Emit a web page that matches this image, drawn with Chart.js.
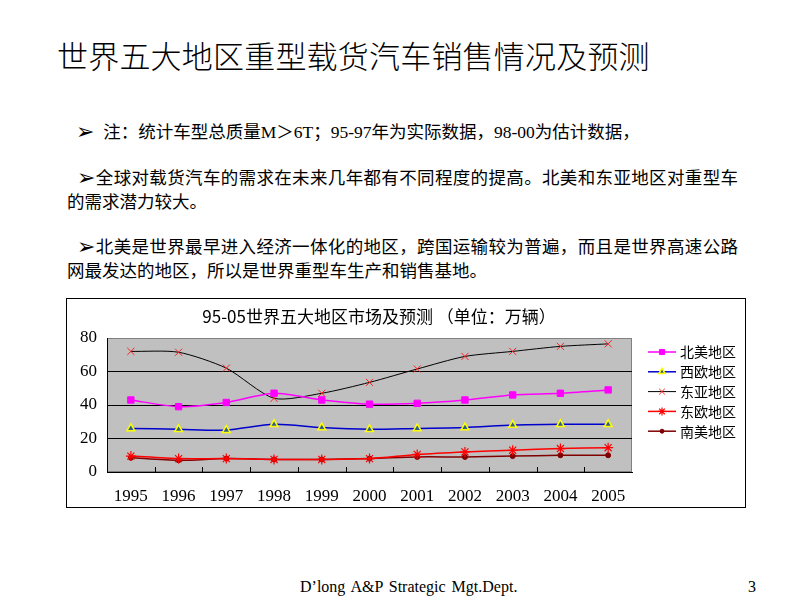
<!DOCTYPE html>
<html>
<head>
<meta charset="utf-8">
<script src="https://cdn.jsdelivr.net/npm/chart.js@4/dist/chart.umd.min.js"></script>
<style>
  html, body { margin:0; padding:0; background:#fff; }
  body { width:800px; height:600px; position:relative; overflow:hidden; font-family:"Liberation Serif","Noto Sans CJK SC",serif; color:#000; }
  .abs { position:absolute; white-space:nowrap; }
  #title { left:57px; top:36px; font-size:31px; font-family:"Noto Sans CJK SC",sans-serif; font-weight:300; line-height:38px; letter-spacing:0.2px; }
  .ln { position:absolute; font-size:17.5px; line-height:24px; white-space:nowrap; font-family:"Liberation Serif","Noto Sans CJK SC",serif; }
  .just { text-align:justify; text-align-last:justify; }
  .arr { font-family:"DejaVu Sans",sans-serif; font-size:22px; line-height:20px; vertical-align:-1px; }
  #box { position:absolute; left:66px; top:298px; width:680px; height:210px; box-sizing:border-box; border:1px solid #000; }
  #c { position:absolute; left:0; top:0; }
  #ctitle { position:absolute; left:179px; top:305px; width:400px; text-align:center; font-size:17px; font-family:"Noto Sans CJK SC",sans-serif; line-height:22px; white-space:nowrap; }
  #footer { left:300px; top:578px; font-size:16px; word-spacing:2px; font-family:"Liberation Serif",serif; }
  #pno { left:748px; top:578px; font-size:16px; font-family:"Liberation Serif",serif; }
</style>
</head>
<body>
<div id="title" class="abs">世界五大地区重型载货汽车销售情况及预测</div>
<div class="ln" style="left:76px;top:120px;"><span class="arr">➢</span>&nbsp;&nbsp;注：统计车型总质量M＞6T；95-97年为实际数据，98-00为估计数据，</div>
<div class="ln just" style="left:77px;top:166px;width:661px;"><span class="arr">➢</span>全球对载货汽车的需求在未来几年都有不同程度的提高。北美和东亚地区对重型车</div>
<div class="ln" style="left:67px;top:190px;">的需求潜力较大。</div>
<div class="ln just" style="left:77px;top:235px;width:661px;"><span class="arr">➢</span>北美是世界最早进入经济一体化的地区，跨国运输较为普遍，而且是世界高速公路</div>
<div class="ln" style="left:67px;top:259px;">网最发达的地区，所以是世界重型车生产和销售基地。</div>

<div id="box"><canvas id="c" width="678" height="208"></canvas></div>
<div id="ctitle">95-05世界五大地区市场及预测 （单位：万辆）</div>

<div id="footer" class="abs">D’long A&amp;P Strategic Mgt.Dept.</div>
<div id="pno" class="abs">3</div>

<script>
const years = ['1995','1996','1997','1998','1999','2000','2001','2002','2003','2004','2005'];
const seriesNames = ['北美地区','西欧地区','东亚地区','东欧地区','南美地区'];
const northAmerica = [43, 39, 41.5, 47, 43, 40.5, 41, 43, 46, 47, 49];
const westEurope   = [26, 25.5, 25, 28.5, 26.5, 25.5, 26, 26.5, 28, 28.5, 28.5];
const eastAsia     = [72, 71.5, 62, 44, 47, 53.5, 61.5, 69, 72, 75, 76.5];
const eastEurope   = [9.5, 8, 8, 7.5, 7.5, 8, 10.5, 12, 13, 14, 14.5];
const southAmerica = [8.5, 7, 8, 7.5, 7.5, 8, 9, 9, 9.5, 10, 10];
const yTicks = [0, 20, 40, 60, 80];

const datasets = [
  { label: seriesNames[0], data: northAmerica, borderColor:'#FF00FF', backgroundColor:'#FF00FF', borderWidth:1.5,
    pointStyle:'rect', pointRadius:4.5, pointBorderColor:'#FF00FF', pointBackgroundColor:'#FF00FF', pointBorderWidth:1 },
  { label: seriesNames[1], data: westEurope, borderColor:'#0000CC', backgroundColor:'#2F5F8F', borderWidth:1.5,
    pointStyle:'triangle', pointRadius:4.5, pointBorderColor:'#FFFF00', pointBackgroundColor:'#2F5F8F', pointBorderWidth:1.5 },
  { label: seriesNames[2], data: eastAsia, borderColor:'#000000', backgroundColor:'#FF0000', borderWidth:1,
    pointStyle:'crossRot', pointRadius:5, pointBorderColor:'#FF2020', pointBackgroundColor:'#FF2020', pointBorderWidth:1 },
  { label: seriesNames[3], data: eastEurope, borderColor:'#FF0000', backgroundColor:'#FF0000', borderWidth:1.5,
    pointStyle:'star', pointRadius:5, pointBorderColor:'#FF0000', pointBackgroundColor:'#FF0000', pointBorderWidth:1.2 },
  { label: seriesNames[4], data: southAmerica, borderColor:'#800000', backgroundColor:'#800000', borderWidth:1.5,
    pointStyle:'circle', pointRadius:2.5, pointBorderColor:'#800000', pointBackgroundColor:'#800000', pointBorderWidth:1 }
];

const plotBg = {
  id:'plotBg',
  beforeDraw(chart){
    const {ctx, chartArea:a} = chart;
    ctx.save();
    ctx.fillStyle = '#C0C0C0';
    ctx.fillRect(a.left, a.top, a.right-a.left, a.bottom-a.top);
    ctx.strokeStyle = '#808080';
    ctx.lineWidth = 1;
    ctx.strokeRect(a.left+0.5, a.top+0.5, a.right-a.left-1, a.bottom-a.top-1);
    ctx.restore();
  },
  afterDraw(chart){
    const {ctx, chartArea:a} = chart;
    const xs = chart.scales.x;
    ctx.save();
    ctx.strokeStyle = '#000';
    ctx.lineWidth = 1;
    for (let i = 1; i < years.length; i++) {
      const x = Math.round((xs.getPixelForTick(i-1) + xs.getPixelForTick(i)) / 2) + 0.5;
      ctx.beginPath(); ctx.moveTo(x, a.bottom); ctx.lineTo(x, a.bottom - 5); ctx.stroke();
    }
    // legend
    const baseY = 53, step = 19.8;
    chart.data.datasets.forEach((ds, i) => {
      const y = baseY + i*step;
      ctx.strokeStyle = ds.borderColor;
      ctx.lineWidth = ds.borderWidth;
      ctx.beginPath(); ctx.moveTo(581, y); ctx.lineTo(609, y); ctx.stroke();
      ctx.fillStyle = ds.pointBackgroundColor;
      ctx.strokeStyle = ds.pointBorderColor;
      ctx.lineWidth = ds.pointBorderWidth;
      Chart.helpers.drawPoint(ctx, {pointStyle: ds.pointStyle, radius: ds.pointRadius*0.8, rotation:0, borderWidth: ds.pointBorderWidth}, 595, y);
      ctx.fillStyle = '#000';
      ctx.font = '14px "Noto Sans CJK SC", sans-serif';
      ctx.textBaseline = 'middle';
      ctx.textAlign = 'left';
      ctx.fillText(ds.label, 613, y);
    });
    ctx.restore();
  }
};

new Chart(document.getElementById('c'), {
  type:'line',
  data:{ labels: years, datasets },
  options:{
    responsive:false,
    animation:false,
    devicePixelRatio:1,
    layout:{ padding:{ top:39, right:113, bottom:0, left:0 } },
    elements:{ line:{ tension:0.25 } },
    plugins:{ legend:{ display:false }, title:{ display:false }, tooltip:{ enabled:false } },
    scales:{
      x:{
        offset:true,
        grid:{ display:false, drawTicks:false },
        border:{ display:true, color:'#000', width:1 },
        ticks:{ padding:14, color:'#000', font:{ family:'"Liberation Serif", serif', size:17 }, maxRotation:0, autoSkip:false },
        afterFit(s){ s.height = 35; }
      },
      y:{
        min:0, max:80,
        afterBuildTicks(s){ s.ticks = yTicks.map(v => ({value:v})); },
        grid:{ drawTicks:false, color: c => (c.tick && c.tick.value === 80) ? '#808080' : (c.tick && c.tick.value === 0 ? 'rgba(0,0,0,0)' : '#000'), lineWidth:1 },
        border:{ display:true, color:'#000', width:1 },
        ticks:{ padding:10, color:'#000', font:{ family:'"Liberation Serif", serif', size:17 } },
        afterFit(s){ s.width = 40; }
      }
    }
  },
  plugins:[plotBg]
});
</script>
</body>
</html>
